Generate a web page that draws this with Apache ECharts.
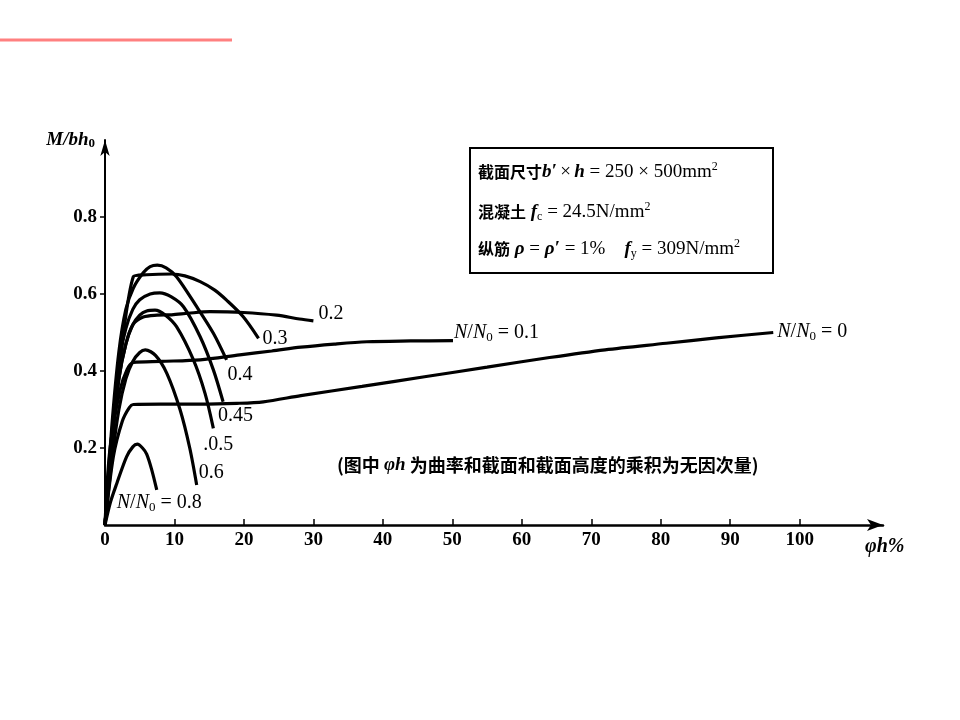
<!DOCTYPE html>
<html>
<head>
<meta charset="utf-8">
<script src="https://cdn.jsdelivr.net/npm/echarts@6/dist/echarts.min.js"></script>
<style>
html,body{margin:0;padding:0;background:#fff;}
#chart{width:960px;height:720px;}
</style>
</head>
<body>
<div id="chart"></div>
<script>
// ---- data ----
const xTickLabels = [0, 10, 20, 30, 40, 50, 60, 70, 80, 90, 100];
const xTickMarks = [10, 20, 30, 40, 50, 60, 70, 80, 90, 100];
const yTickLabels = [0.2, 0.4, 0.6, 0.8];

const curveLabels = ['0.8', '0.6', '0.5', '0.45', '0.4', '0.3', '0.2', '0.1', '0'];

const c08 = [[0,0],[0.8,0.06],[1.7,0.108],[3.1,0.177],[4.0,0.203],[4.65,0.21],[5.4,0.2],[6.0,0.184],[6.7,0.145],[7.45,0.091]];
const c06 = [[0,0],[1,0.17],[2,0.3],[3,0.38],[4,0.425],[5,0.448],[5.8,0.455],[7.3,0.44],[8.9,0.394],[10.8,0.30],[12.2,0.20],[13.2,0.104]];
const c05 = [[0,0],[1,0.22],[2,0.38],[3,0.47],[4,0.52],[5,0.545],[6,0.556],[7.2,0.558],[8.7,0.545],[10.3,0.515],[12.7,0.43],[14.4,0.342],[15.6,0.251]];
const c045 = [[0,0],[1,0.24],[2,0.42],[3,0.51],[4,0.56],[5,0.585],[6.5,0.6],[7.9,0.603],[9.5,0.593],[11.3,0.567],[13.7,0.489],[15.6,0.403],[17.0,0.32]];
const c04 = [[0,0],[1,0.26],[2,0.45],[3,0.56],[4.07,0.615],[5.5,0.655],[6.5,0.671],[7.53,0.675],[8.8,0.668],[10.3,0.645],[13.2,0.567],[15.6,0.498],[17.5,0.429]];
const c03 = [[0,0],[4.07,0.645],[6,0.65],[9.6,0.652],[11.5,0.647],[13.7,0.632],[15.8,0.61],[17.5,0.584],[19.9,0.541],[22.1,0.485]];
const c02 = [[0,0],[1,0.22],[2,0.38],[3,0.47],[4,0.52],[5.5,0.54],[7.5,0.545],[9.6,0.546],[12,0.55],[15.1,0.554],[19.9,0.552],[24.7,0.545],[28,0.535],[30,0.53]];
const c01 = [[0,0],[0.7,0.195],[2.16,0.35],[3.2,0.405],[4.07,0.422],[8,0.425],[13.7,0.429],[19.4,0.442],[24,0.452],[28.2,0.462],[33,0.47],[37.7,0.476],[44,0.478],[50.1,0.479]];
const c00 = [[0,0],[1.2,0.177],[2.5,0.27],[3.5,0.305],[4.07,0.313],[8,0.314],[13.7,0.314],[19,0.316],[22.8,0.32],[28.2,0.336],[37,0.36],[46,0.385],[55,0.41],[64,0.435],[72,0.455],[80.8,0.472],[88,0.486],[96.2,0.5]];

// ---- styles ----
const SERIF = '"Liberation Serif", "Noto Sans CJK SC", serif';
const richN = {
  i: {fontStyle: 'italic', fontFamily: SERIF, fontSize: 20, color: '#000'},
  s: {fontFamily: SERIF, fontSize: 13, color: '#000', padding: [10, 0, 0, 0]},
  n: {fontFamily: SERIF, fontSize: 20, color: '#000'}
};

function mkSeries(data, text, offset, rich) {
  return {
    type: 'line',
    data: data,
    smooth: 0.3,
    symbol: 'none',
    lineStyle: {color: '#000', width: 3.2},
    endLabel: {
      show: true,
      formatter: rich ? rich : text,
      offset: offset,
      distance: 0,
      align: 'left',
      verticalAlign: 'middle',
      color: '#000',
      fontFamily: SERIF,
      fontSize: 20,
      rich: richN
    },
    z: 3
  };
}

const chart = echarts.init(document.getElementById('chart'), null, {renderer: 'canvas'});

const boxRich = {
  c: {fontFamily: '"Noto Sans CJK SC"', fontSize: 16, fontWeight: 'bold', fill: '#000'},
  i: {fontFamily: SERIF, fontSize: 19, fontStyle: 'italic', fontWeight: 'bold', fill: '#000'},
  n: {fontFamily: SERIF, fontSize: 19, fill: '#000'},
  sub: {fontFamily: SERIF, fontSize: 12, fill: '#000', padding: [9, 0, 0, 0]},
  sup: {fontFamily: SERIF, fontSize: 12, fill: '#000', padding: [0, 0, 10, 0]}
};

const option = {
  animation: false,
  backgroundColor: '#ffffff',
  grid: {left: 105, top: 140, width: 778, height: 385},
  xAxis: {
    type: 'value',
    min: 0,
    max: 112,
    axisLine: {show: true, lineStyle: {color: '#000', width: 2.5}, symbol: ['none', 'arrow'], symbolSize: [9, 16]},
    axisTick: {show: true, inside: true, length: 6, lineStyle: {color: '#000', width: 1.5}, customValues: xTickMarks},
    axisLabel: {show: true, customValues: xTickLabels, color: '#000', fontFamily: SERIF, fontSize: 19, fontWeight: 'bold', margin: 6},
    splitLine: {show: false},
    name: '{p|φh%}',
    nameLocation: 'end',
    nameGap: -18,
    nameTextStyle: {
      align: 'left', verticalAlign: 'top', padding: [12, 0, 0, 0],
      rich: {p: {fontFamily: SERIF, fontSize: 20, fontWeight: 'bold', fontStyle: 'italic', color: '#000'}}
    }
  },
  yAxis: {
    type: 'value',
    min: 0,
    max: 1,
    axisLine: {show: true, lineStyle: {color: '#000', width: 2}, symbol: ['none', 'arrow'], symbolSize: [7, 16]},
    axisTick: {show: true, inside: false, length: 5, lineStyle: {color: '#000', width: 1.5}, customValues: yTickLabels},
    axisLabel: {show: true, customValues: yTickLabels, color: '#000', fontFamily: SERIF, fontSize: 19, fontWeight: 'bold', margin: 8,
      formatter: function (v) { return v.toFixed(1); }},
    splitLine: {show: false},
    name: '{i|M/bh}{s|0}',
    nameLocation: 'end',
    nameGap: 0,
    nameTextStyle: {
      align: 'right', verticalAlign: 'middle', padding: [0, 10, 0, 0],
      rich: {
        i: {fontFamily: SERIF, fontSize: 19, fontWeight: 'bold', fontStyle: 'italic', color: '#000'},
        s: {fontFamily: SERIF, fontSize: 13, fontWeight: 'bold', color: '#000', padding: [8, 0, 0, 0]}
      }
    }
  },
  series: [
    mkSeries(c08, null, [-40, 13], '{i|N}{n|/}{i|N}{s|0}{n| = ' + curveLabels[0] + '}'),
    mkSeries(c06, curveLabels[1], [2, -12]),
    mkSeries(c05, '.' + curveLabels[2], [-10, 16]),
    mkSeries(c045, curveLabels[3], [-5, 14]),
    mkSeries(c04, curveLabels[4], [1, 15]),
    mkSeries(c03, curveLabels[5], [4, 0]),
    mkSeries(c02, curveLabels[6], [5, -7]),
    mkSeries(c01, null, [1, -8], '{i|N}{n|/}{i|N}{s|0}{n| = ' + curveLabels[7] + '}'),
    mkSeries(c00, null, [4, -1], '{i|N}{n|/}{i|N}{s|0}{n| = ' + curveLabels[8] + '}')
  ],
  graphic: [
    {type: 'line', shape: {x1: 0, y1: 40, x2: 232, y2: 40}, style: {stroke: '#ff8080', lineWidth: 3}},
    {type: 'rect', shape: {x: 470, y: 148, width: 303, height: 125}, style: {fill: '#fff', stroke: '#000', lineWidth: 2}, z: 10},
    {type: 'text', x: 478, y: 172, z: 11, style: {
      text: '{c|截面尺寸}{i|b′} {n|×} {i|h}{n| = 250 × 500mm}{sup|2}',
      verticalAlign: 'middle', rich: boxRich}},
    {type: 'text', x: 478, y: 212, z: 11, style: {
      text: '{c|混凝土}{i| f}{sub|c}{n| = 24.5N/mm}{sup|2}',
      verticalAlign: 'middle', rich: boxRich}},
    {type: 'text', x: 478, y: 249, z: 11, style: {
      text: '{c|纵筋}{i| ρ}{n| = }{i|ρ′}{n| = 1%    }{i|f}{sub|y}{n| = 309N/mm}{sup|2}',
      verticalAlign: 'middle', rich: boxRich}},
    {type: 'text', x: 337, y: 465, z: 11, style: {
      text: '{c|(图中 }{i|φh}{c| 为曲率和截面和截面高度的乘积为无因次量)}',
      verticalAlign: 'middle',
      rich: {
        c: {fontFamily: '"Noto Sans CJK SC"', fontSize: 18, fontWeight: 'bold', fill: '#000'},
        i: {fontFamily: SERIF, fontSize: 19, fontStyle: 'italic', fontWeight: 'bold', fill: '#000'}
      }}}
  ]
};

chart.setOption(option);
</script>
</body>
</html>
